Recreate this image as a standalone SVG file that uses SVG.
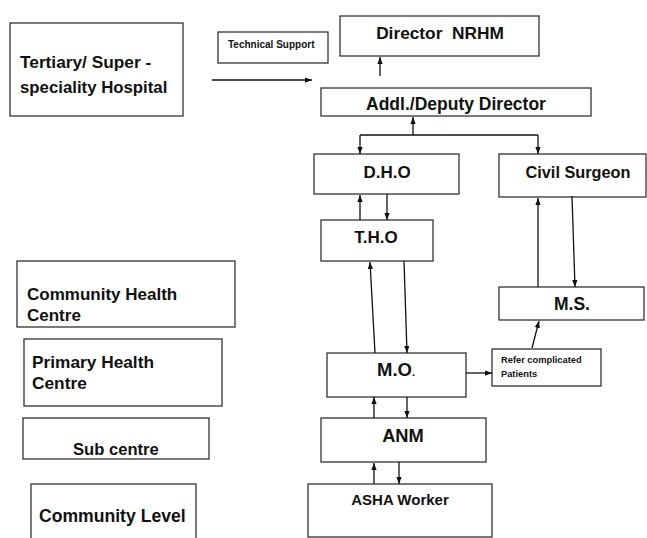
<svg xmlns="http://www.w3.org/2000/svg" width="647" height="538" viewBox="0 0 647 538">
<style>
.box{fill:#fff;stroke:#333;stroke-width:1.3}
.t{font-family:"Liberation Sans",Arial,sans-serif;font-weight:bold;fill:#111}
.c{stroke:#111;stroke-width:1.3;fill:none;marker-end:url(#ah)}
.l{stroke:#111;stroke-width:1.3;fill:none}
</style>
<defs>
<marker id="ah" viewBox="0 0 8 6" refX="8" refY="3" markerUnits="userSpaceOnUse" markerWidth="7" markerHeight="6" orient="auto">
<path d="M0,0 L8,3 L0,6 z" fill="#111"/>
</marker>
</defs>
<rect width="647" height="538" fill="#fff"/>
<g id="tertiary"><rect class="box" x="10" y="23" width="173" height="93"/><text class="t" x="20" y="68" font-size="17.3">Tertiary/ Super -</text><text class="t" x="20" y="93" font-size="16.8">speciality Hospital</text></g>
<g id="technical-support"><rect class="box" x="218" y="32" width="110" height="31"/><text class="t" x="228" y="48" font-size="10">Technical Support</text></g>
<g id="director"><rect class="box" x="340" y="16" width="199" height="40"/><text class="t" x="440" y="39" font-size="17.3" text-anchor="middle" xml:space="preserve">Director  NRHM</text></g>
<g id="addl"><rect class="box" x="321" y="88" width="270" height="28"/><text class="t" x="456" y="110" font-size="17.5" text-anchor="middle">Addl./Deputy Director</text></g>
<g id="dho"><rect class="box" x="314" y="154" width="145" height="40"/><text class="t" x="387" y="178" font-size="17" text-anchor="middle">D.H.O</text></g>
<g id="civil-surgeon"><rect class="box" x="499" y="154" width="147" height="43"/><text class="t" x="578" y="178" font-size="16.3" text-anchor="middle">Civil Surgeon</text></g>
<g id="tho"><rect class="box" x="321" y="220" width="112" height="41"/><text class="t" x="376" y="243" font-size="17" text-anchor="middle">T.H.O</text></g>
<g id="ms"><rect class="box" x="499" y="287" width="145" height="33"/><text class="t" x="572" y="310" font-size="17.5" text-anchor="middle">M.S.</text></g>
<g id="mo"><rect class="box" x="327" y="353" width="139" height="44"/><text class="t" x="377" y="376" font-size="18.5">M.O<tspan font-size="11">.</tspan></text></g>
<g id="refer"><rect class="box" x="492" y="349" width="109" height="37"/><text class="t" x="501" y="363" font-size="9.3">Refer complicated</text><text class="t" x="501" y="377" font-size="9.3">Patients</text></g>
<g id="anm"><rect class="box" x="321" y="418" width="165" height="44"/><text class="t" x="403" y="442" font-size="18.3" text-anchor="middle">ANM</text></g>
<g id="asha"><rect class="box" x="308" y="484" width="184" height="53"/><text class="t" x="400" y="505" font-size="15" text-anchor="middle">ASHA Worker</text></g>
<g id="chc"><rect class="box" x="17" y="261" width="218" height="66"/><text class="t" x="27" y="300" font-size="17">Community Health</text><text class="t" x="27" y="321" font-size="17">Centre</text></g>
<g id="phc"><rect class="box" x="24" y="339" width="198" height="67"/><text class="t" x="32" y="368" font-size="17.3">Primary Health</text><text class="t" x="32" y="389" font-size="17.3">Centre</text></g>
<g id="sub-centre"><rect class="box" x="23" y="418" width="186" height="41"/><text class="t" x="73" y="455" font-size="16.6">Sub centre</text></g>
<g id="community-level"><rect class="box" x="31" y="484" width="165" height="60"/><text class="t" x="39" y="522" font-size="17.6">Community Level</text></g>
<g id="connectors">
<path class="c" d="M212,80 H312"/>
<path class="c" d="M380,76 V57"/>
<path class="c" d="M413,135 V117"/>
<path class="l" d="M360,135 H538"/>
<path class="c" d="M360,135 V154"/>
<path class="c" d="M538,135 V154"/>
<path class="c" d="M360,220 V195"/>
<path class="c" d="M387,194 V220"/>
<path class="c" d="M375,353 L370,262"/>
<path class="c" d="M404,261 L407,353"/>
<path class="c" d="M538,287 V198"/>
<path class="c" d="M572,196 L575,287"/>
<path class="c" d="M466,373 H492"/>
<path class="c" d="M532,348 L539,321"/>
<path class="c" d="M374,418 V397"/>
<path class="c" d="M407,397 V418"/>
<path class="c" d="M374,484 V463"/>
<path class="c" d="M399,462 V484"/>
</g>
</svg>
